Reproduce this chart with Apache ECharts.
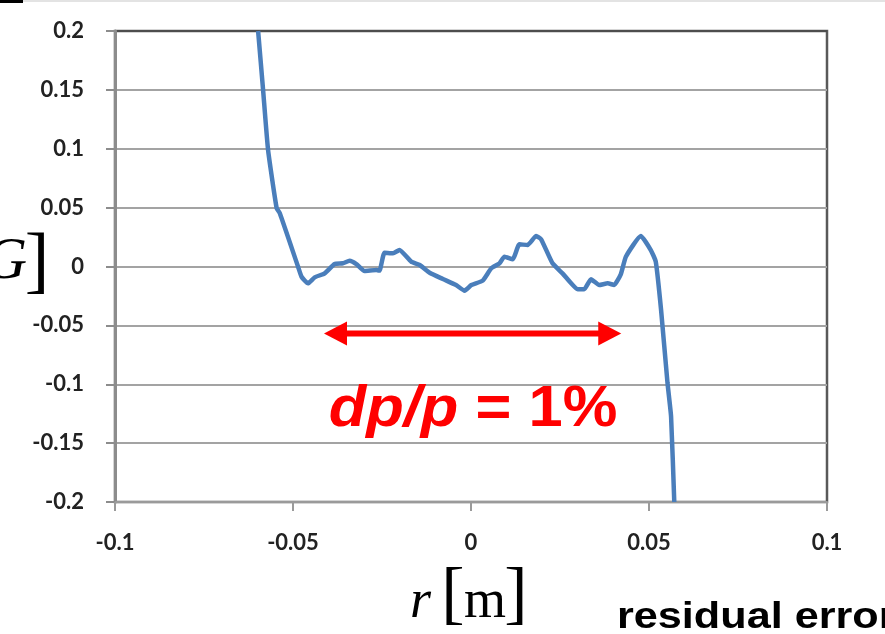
<!DOCTYPE html>
<html>
<head>
<meta charset="utf-8">
<title>residual error</title>
<script src="https://cdn.jsdelivr.net/npm/echarts@6/dist/echarts.min.js"></script>
<style>
	html, body { margin: 0; padding: 0; background: #fff; }
	#main { width: 885px; height: 634px; }
</style>
</head>
<body>
<div id="main"></div>
<script>
	// radius r [m]
	var rValues = [
		-0.0598, -0.0584, -0.0570, -0.0546, -0.0537, -0.0486, -0.0476, -0.0458, -0.0439, -0.0411,
		-0.0383, -0.0360, -0.0341, -0.0322, -0.0299, -0.0266, -0.0257, -0.0243, -0.0219, -0.0201,
		-0.0168, -0.0144, -0.0116, -0.0079, -0.0042, -0.0018, 0.0001, 0.0033, 0.0057, 0.0080,
		0.0094, 0.0117, 0.0136, 0.0159, 0.0183, 0.0197, 0.0229, 0.0257, 0.0300, 0.0318,
		0.0337, 0.0360, 0.0384, 0.0402, 0.0421, 0.0435, 0.0477, 0.0505, 0.0519, 0.0534,
		0.0552, 0.0562, 0.0571
	];
	// residual error
	var residualValues = [
		0.2000, 0.1499, 0.0989, 0.0497, 0.0452, 0.0000, -0.0087, -0.0143, -0.0092, -0.0058,
		0.0021, 0.0027, 0.0049, 0.0021, -0.0038, -0.0030, -0.0035, 0.0117, 0.0112, 0.0140,
		0.0041, 0.0013, -0.0053, -0.0106, -0.0157, -0.0205, -0.0157, -0.0120, -0.0015, 0.0027,
		0.0083, 0.0061, 0.0188, 0.0183, 0.0259, 0.0231, 0.0027, -0.0058, -0.0193, -0.0193,
		-0.0109, -0.0157, -0.0143, -0.0157, -0.0064, 0.0083, 0.0259, 0.0140, 0.0041, -0.0372,
		-0.0990, -0.1274, -0.2000
	];
	var xRange = [-0.1, 0.1];
	var yRange = [-0.2, 0.2];
	var tickStep = 0.05;
	// dp/p = 1% arrow
	var arrowRange = [-0.0413, 0.0422];
	var arrowLevel = -0.057;

	var points = rValues.map(function (r, i) { return [r, residualValues[i]]; });

	var labelFont = {
		fontFamily: 'Lato',
		fontWeight: 'bold',
		fontSize: 22,
		color: '#222'
	};

	var myChart = echarts.init(document.getElementById('main'));
	myChart.setOption({
		animation: false,
		grid: {
			left: 115,
			right: 58,
			top: 31,
			bottom: 132,
			show: true,
			borderColor: '#595959',
			borderWidth: 2.5,
			outerBoundsMode: 'none'
		},
		xAxis: {
			type: 'value',
			min: xRange[0],
			max: xRange[1],
			interval: tickStep,
			axisLine: { show: true, onZero: false, lineStyle: { color: '#9a9a9a', width: 2 } },
			axisTick: { show: true, length: 9, lineStyle: { color: '#9a9a9a', width: 2 } },
			axisLabel: Object.assign({ margin: 30 }, labelFont),
			splitLine: { show: false }
		},
		yAxis: {
			type: 'value',
			min: yRange[0],
			max: yRange[1],
			interval: tickStep,
			axisLine: { show: true, onZero: false, lineStyle: { color: '#8c8c8c', width: 3 } },
			axisTick: { show: true, length: 9, lineStyle: { color: '#8c8c8c', width: 2 } },
			axisLabel: Object.assign({ margin: 31 }, labelFont),
			splitLine: {
				show: true,
				lineStyle: {
					color: ['#a3a3a3', '#a3a3a3', '#a3a3a3', '#a3a3a3', '#a3a3a3', '#a3a3a3', '#a3a3a3', '#a3a3a3', '#4d4d4d'],
					width: 2
				}
			}
		},
		series: [
			{
				type: 'line',
				data: points,
				showSymbol: false,
				smooth: 0.15,
				clip: true,
				lineStyle: { color: '#4a7ebb', width: 4.5 }
			}
		]
	});

	// annotations: arrow placed through the axes, texts around the plot
	var a0 = myChart.convertToPixel({ gridIndex: 0 }, [arrowRange[0], arrowLevel]);
	var a1 = myChart.convertToPixel({ gridIndex: 0 }, [arrowRange[1], arrowLevel]);
	var headLen = 23, headHalf = 12;
	var red = '#ff0000';

	myChart.setOption({
		graphic: [
			{ type: 'rect', shape: { x: 0, y: 0, width: 23, height: 3 }, style: { fill: '#000' } },
			{ type: 'rect', shape: { x: 23, y: 0, width: 862, height: 2 }, style: { fill: '#e3e3e3' } },
			{
				type: 'line',
				shape: { x1: a0[0] + headLen - 2, y1: a0[1], x2: a1[0] - headLen + 2, y2: a1[1] },
				style: { stroke: red, lineWidth: 6 }
			},
			{
				type: 'polygon',
				shape: { points: [[a0[0], a0[1]], [a0[0] + headLen, a0[1] - headHalf], [a0[0] + headLen, a0[1] + headHalf]] },
				style: { fill: red }
			},
			{
				type: 'polygon',
				shape: { points: [[a1[0], a1[1]], [a1[0] - headLen, a1[1] - headHalf], [a1[0] - headLen, a1[1] + headHalf]] },
				style: { fill: red }
			},
			{
				type: 'text',
				x: 473, y: 410, scaleX: 1.06, originX: 0,
				style: {
					text: '{i|dp/p}{n| = 1%}',
					align: 'center',
					verticalAlign: 'middle',
					rich: {
						i: { fontFamily: 'Liberation Sans', fontWeight: 'bold', fontStyle: 'italic', fontSize: 58, fill: red },
						n: { fontFamily: 'Liberation Sans', fontWeight: 'bold', fontSize: 58, fill: red }
					}
				}
			},
			{
				type: 'text',
				x: 431, y: 603,
				style: { text: 'r', fontFamily: 'Liberation Serif', fontStyle: 'italic', fontSize: 54, fill: '#000', align: 'right', verticalAlign: 'middle' }
			},
			{
				type: 'text',
				x: 453, y: 598,
				style: { text: '[', fontFamily: 'Liberation Serif', fontSize: 70, fill: '#000', align: 'center', verticalAlign: 'middle' }
			},
			{
				type: 'text',
				x: 485, y: 603,
				style: { text: 'm', fontFamily: 'Liberation Serif', fontSize: 54, fill: '#000', align: 'center', verticalAlign: 'middle' }
			},
			{
				type: 'text',
				x: 516, y: 598,
				style: { text: ']', fontFamily: 'Liberation Serif', fontSize: 70, fill: '#000', align: 'center', verticalAlign: 'middle' }
			},
			{
				type: 'text',
				x: 27, y: 262,
				style: { text: 'G', fontFamily: 'Liberation Serif', fontStyle: 'italic', fontSize: 60, fill: '#000', align: 'right', verticalAlign: 'middle' }
			},
			{
				type: 'text',
				x: 37, y: 265,
				style: { text: ']', fontFamily: 'Liberation Serif', fontSize: 74, fill: '#000', align: 'center', verticalAlign: 'middle' }
			},
			{
				type: 'text',
				x: 617, y: 618, scaleX: 1.2,
				style: { text: 'residual error', fontFamily: 'Liberation Sans', fontWeight: 'bold', fontSize: 36, fill: '#000', align: 'left', verticalAlign: 'middle' }
			}
		]
	});
</script>
</body>
</html>
